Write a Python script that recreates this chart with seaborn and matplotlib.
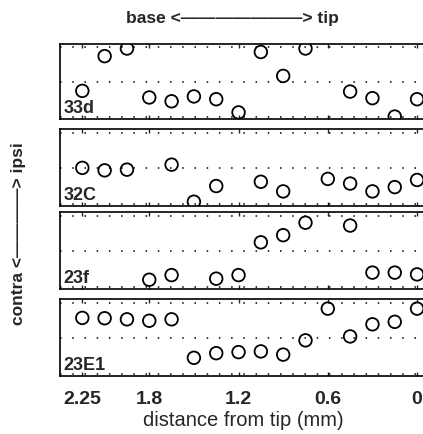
import numpy as np
import pandas as pd
import matplotlib
matplotlib.use("Agg")
import matplotlib.pyplot as plt
import seaborn as sns

sns.set_style("white")
plt.rcParams['font.family'] = ['Liberation Sans', 'DejaVu Sans']

# distance from tip (mm) and relative position (0 = contra ... 2 = ipsi) per section
names = ['33d', '32C', '23f', '23E1']

x_33d = [2.1, 1.95, 1.05, 0.75, 0.9, 2.25, 1.8, 1.65, 1.5, 1.35, 1.2, 0.45, 0.3, 0.15, 0.0]
y_33d = [1.75, 1.97, 1.87, 1.97, 1.18, 0.75, 0.56, 0.45, 0.59, 0.51, 0.13, 0.73, 0.54, 0.01, 0.51]

x_32c = [2.25, 2.1, 1.95, 1.65, 1.5, 1.35, 1.05, 0.9, 0.6, 0.45, 0.3, 0.15, 0.0]
y_32c = [1.01, 0.94, 0.96, 1.10, 0.06, 0.50, 0.62, 0.35, 0.70, 0.57, 0.35, 0.47, 0.67]

x_23f = [1.05, 0.9, 0.75, 0.45, 1.8, 1.65, 1.35, 1.2, 0.3, 0.15, 0.0]
y_23f = [1.25, 1.45, 1.80, 1.72, 0.20, 0.33, 0.23, 0.33, 0.40, 0.40, 0.35]

x_23e1 = [2.25, 2.1, 1.95, 1.8, 1.65, 1.5, 1.35, 1.2, 1.05, 0.9, 0.75, 0.6, 0.45, 0.3, 0.15, 0.0]
y_23e1 = [1.57, 1.56, 1.53, 1.49, 1.53, 0.45, 0.58, 0.61, 0.63, 0.54, 0.94, 1.83, 1.05, 1.39, 1.46, 1.83]

tick_pos = [2.25, 1.8, 1.2, 0.6, 0]
tick_lab = ['2.25', '1.8', '1.2', '0.6', '0']

panels = [(x_33d, y_33d), (x_32c, y_32c), (x_23f, y_23f), (x_23e1, y_23e1)]

W, H = 423, 435
fig = plt.figure(figsize=(W / 100, H / 100), dpi=100)

# panel boxes in pixels (top, bottom)
boxes = [(45, 120), (130, 207), (213, 290), (300, 377)]
left_px, right_px = 60, 426

for i, ((xs, ys), (top, bot)) in enumerate(zip(panels, boxes)):
    ax = fig.add_axes([left_px / W, 1 - bot / H, (right_px - left_px) / W, (bot - top) / H])
    df = pd.DataFrame({'dist': xs, 'pos': ys})
    for lvl in [0, 1, 2]:
        ax.axhline(lvl, color='black', lw=1.1, ls=(0, (1, 7)), zorder=1)
    sns.scatterplot(data=df, x='dist', y='pos', ax=ax, marker='o', s=82,
                    facecolor='none', edgecolor='black', linewidth=1.3, zorder=3)
    ax.set_xlim(2.40, -0.06)
    ax.set_ylim(-0.06, 2.1)
    ax.set_yticks([])
    ax.set_xticks(tick_pos)
    ax.tick_params(axis='x', direction='in', length=3, width=1, top=True, bottom=True)
    ax.set_ylabel('')
    ax.set_xlabel('')
    for sp in ax.spines.values():
        sp.set_color('black')
        sp.set_linewidth(1.2)
    ax.text(2.375, 0.02, names[i], fontsize=13, fontweight='bold', ha='left', va='bottom', zorder=4)
    if i < 3:
        ax.set_xticklabels([])
    else:
        ax.set_xticklabels(tick_lab, fontsize=14, fontweight='bold')
        ax.tick_params(axis='x', pad=10)
        ax.set_xlabel('distance from tip (mm)', fontsize=14.5, labelpad=2)

fig.text(232 / W, 1 - 18 / H, 'base <\u2014\u2014\u2014\u2014\u2014\u2014\u2014> tip',
         ha='center', va='center', fontsize=12.5, fontweight='bold')
fig.text(18 / W, 1 - 234 / H, 'contra <\u2014\u2014\u2014\u2014> ipsi',
         ha='center', va='center', rotation=90, fontsize=12.5, fontweight='bold')

fig.savefig('out.png', dpi=100, facecolor='white')
